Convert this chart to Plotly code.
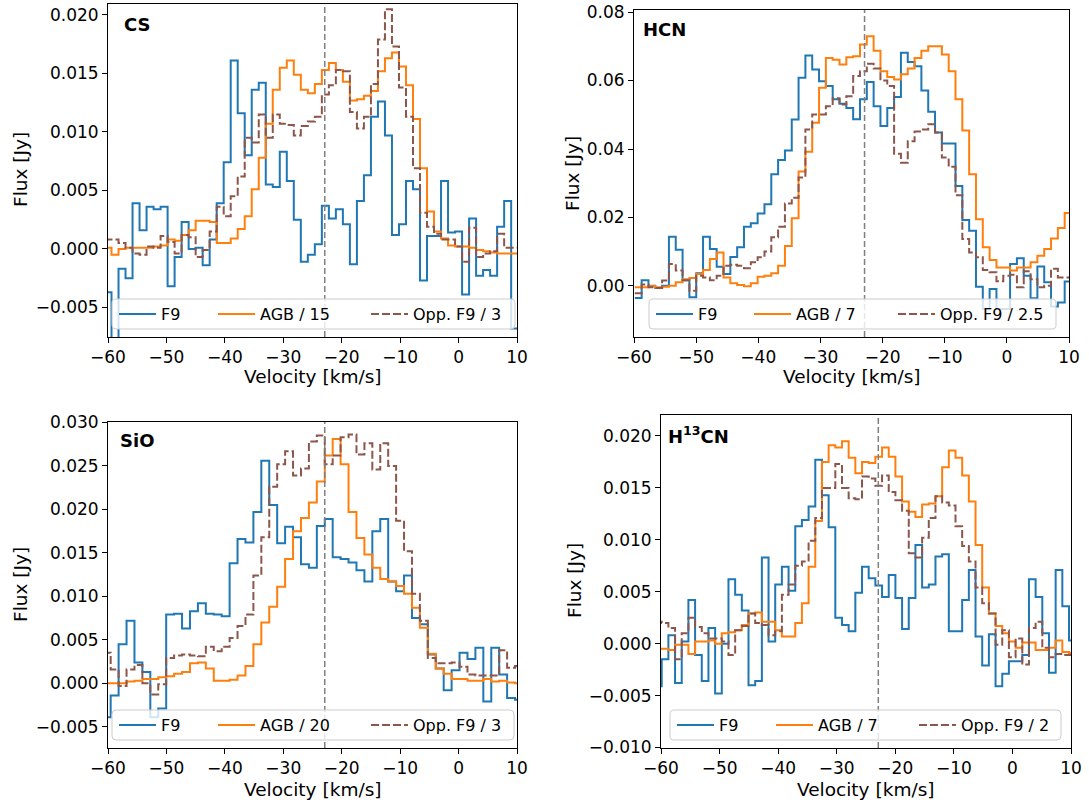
import numpy as np
import plotly.graph_objects as go

# velocity channel grids (km/s): centre of first channel and channel width per line
CS_V0, CS_DV = -60.0, 1.2
HCN_V0, HCN_DV = -59.32, 1.098
SIO_V0, SIO_DV = -60.22, 1.357
H13CN_V0, H13CN_DV = -60.45, 1.14

# CS (Jy)
cs_f9 = [-0.0037, -0.0090, -0.0017, -0.0025, 0.0039, 0.0016, 0.0036, 0.0034, 0.0036, -0.0032,
         -0.0007, 0.0023, 0.0000, 0.0001, -0.0014, 0.0008, 0.0039, 0.0074, 0.0161, 0.0116,
         0.0080, 0.0136, 0.0142, 0.0055, 0.0053, 0.0083, 0.0058, 0.0025, -0.0011, -0.0005,
         0.0004, 0.0037, 0.0026, 0.0034, 0.0021, -0.0013, 0.0041, 0.0063, 0.0113, 0.0126,
         0.0097, 0.0012, 0.0021, 0.0058, 0.0051, -0.0027, 0.0011, 0.0011, 0.0058, 0.0014,
         0.0015, -0.0039, 0.0026, -0.0023, -0.0018, -0.0023, 0.0019, 0.0041, -0.0068]
cs_agb = [0.0001, -0.0005, 0.0000, 0.0001, 0.0001, 0.0001, 0.0001, 0.0002, 0.0003, 0.0008,
          0.0007, 0.0012, 0.0016, 0.0024, 0.0024, 0.0023, 0.0005, 0.0005, 0.0009, 0.0017,
          0.0028, 0.0051, 0.0078, 0.0107, 0.0136, 0.0155, 0.0161, 0.0149, 0.0136, 0.0133,
          0.0141, 0.0153, 0.0159, 0.0153, 0.0143, 0.0127, 0.0128, 0.0131, 0.0135, 0.0152,
          0.0163, 0.0168, 0.0156, 0.0140, 0.0111, 0.0069, 0.0032, 0.0015, 0.0009, 0.0003,
          0.0002, 0.0002, 0.0001, -0.0001, -0.0002, -0.0003, -0.0004, -0.0004, -0.0004]
cs_opp = [0.0008, 0.0008, 0.0005, 0.0001, -0.0004, -0.0005, 0.0002, 0.0001, 0.0011, 0.0006,
          -0.0004, 0.0012, 0.0010, -0.0007, -0.0001, 0.0015, 0.0036, 0.0028, 0.0045, 0.0062,
          0.0095, 0.0091, 0.0115, 0.0095, 0.0115, 0.0107, 0.0106, 0.0097, 0.0105, 0.0109,
          0.0113, 0.0132, 0.0140, 0.0153, 0.0152, 0.0117, 0.0103, 0.0113, 0.0141, 0.0179,
          0.0205, 0.0173, 0.0138, 0.0113, 0.0069, 0.0031, 0.0019, 0.0013, 0.0008, 0.0008,
          0.0002, -0.0011, 0.0018, -0.0007, -0.0004, -0.0002, 0.0013, 0.0001, 0.0001]

# HCN (Jy)
hcn_f9 = [-0.0035, 0.0017, 0.0001, -0.0006, 0.0001, 0.0144, 0.0106, 0.0017, -0.0033, 0.0037,
          0.0144, 0.0108, 0.0056, 0.0035, 0.0085, 0.0113, 0.0173, 0.0183, 0.0212, 0.0239,
          0.0326, 0.0368, 0.0396, 0.0486, 0.0608, 0.0673, 0.0632, 0.0598, 0.0584, 0.0545,
          0.0532, 0.0520, 0.0487, 0.0545, 0.0596, 0.0525, 0.0467, 0.0520, 0.0552, 0.0681,
          0.0654, 0.0642, 0.0571, 0.0509, 0.0448, 0.0416, 0.0416, 0.0292, 0.0193, 0.0161,
          -0.0002, -0.0067, -0.0009, -0.0067, -0.0067, 0.0064, 0.0081, 0.0030, -0.0036, 0.0057,
          0.0011, -0.0060, -0.0048, 0.0013]
hcn_agb = [-0.0004, -0.0004, 0.0000, -0.0004, -0.0002, 0.0001, 0.0011, 0.0020, 0.0023, 0.0035,
           0.0047, 0.0079, 0.0098, 0.0025, 0.0008, 0.0003, -0.0001, 0.0008, 0.0027, 0.0030,
           0.0037, 0.0059, 0.0117, 0.0198, 0.0334, 0.0392, 0.0477, 0.0579, 0.0666, 0.0661,
           0.0647, 0.0668, 0.0671, 0.0705, 0.0729, 0.0687, 0.0627, 0.0610, 0.0603, 0.0618,
           0.0635, 0.0666, 0.0687, 0.0700, 0.0700, 0.0676, 0.0627, 0.0545, 0.0454, 0.0326,
           0.0195, 0.0113, 0.0076, 0.0054, 0.0054, 0.0045, 0.0054, 0.0054, 0.0069, 0.0088,
           0.0108, 0.0139, 0.0169, 0.0213]
hcn_opp = [-0.0021, 0.0004, -0.0004, -0.0006, 0.0016, 0.0064, 0.0045, 0.0017, -0.0014, 0.0030,
           0.0025, 0.0017, 0.0030, 0.0059, 0.0062, 0.0059, 0.0052, 0.0069, 0.0084, 0.0101,
           0.0142, 0.0173, 0.0241, 0.0258, 0.0317, 0.0457, 0.0501, 0.0501, 0.0525, 0.0548,
           0.0530, 0.0554, 0.0613, 0.0627, 0.0649, 0.0635, 0.0600, 0.0584, 0.0386, 0.0360,
           0.0423, 0.0451, 0.0457, 0.0472, 0.0448, 0.0375, 0.0348, 0.0265, 0.0137, 0.0098,
           0.0084, 0.0047, 0.0040, 0.0014, 0.0030, 0.0033, -0.0004, 0.0043, 0.0020, -0.0004,
           0.0001, 0.0050, 0.0025, 0.0025]

# SiO (Jy)
sio_f9 = [-0.0039, -0.0014, 0.0045, 0.0072, 0.0024, 0.0013, -0.0039, -0.0029, 0.0079, 0.0080,
          0.0063, 0.0083, 0.0092, 0.0080, 0.0079, 0.0077, 0.0138, 0.0166, 0.0162, 0.0197,
          0.0256, 0.0205, 0.0161, 0.0180, 0.0168, 0.0137, 0.0133, 0.0181, 0.0189, 0.0145,
          0.0143, 0.0139, 0.0130, 0.0117, 0.0175, 0.0189, 0.0117, 0.0106, 0.0124, 0.0075,
          0.0068, 0.0033, 0.0017, -0.0008, 0.0015, 0.0035, 0.0028, 0.0041, -0.0021, 0.0041,
          0.0010, -0.0017, -0.0019]
sio_agb = [0.0000, 0.0000, 0.0000, 0.0002, 0.0003, 0.0005, 0.0005, 0.0007, 0.0008, 0.0011,
           0.0013, 0.0023, 0.0024, 0.0017, 0.0003, 0.0003, 0.0004, 0.0009, 0.0020, 0.0045,
           0.0070, 0.0088, 0.0111, 0.0143, 0.0175, 0.0190, 0.0208, 0.0232, 0.0262, 0.0281,
           0.0252, 0.0197, 0.0167, 0.0148, 0.0133, 0.0120, 0.0117, 0.0112, 0.0103, 0.0087,
           0.0064, 0.0034, 0.0017, 0.0011, 0.0005, 0.0005, 0.0003, 0.0003, 0.0005, 0.0002,
           0.0003, 0.0001, 0.0000]
sio_opp = [0.0035, 0.0016, -0.0003, 0.0016, 0.0021, 0.0000, -0.0013, -0.0001, 0.0029, 0.0032,
           0.0033, 0.0032, 0.0031, 0.0042, 0.0037, 0.0042, 0.0052, 0.0066, 0.0079, 0.0124,
           0.0168, 0.0226, 0.0252, 0.0267, 0.0239, 0.0247, 0.0278, 0.0285, 0.0252, 0.0262,
           0.0283, 0.0286, 0.0263, 0.0276, 0.0246, 0.0276, 0.0250, 0.0187, 0.0152, 0.0103,
           0.0072, 0.0029, 0.0023, 0.0023, 0.0024, 0.0019, 0.0010, 0.0009, 0.0009, 0.0009,
           0.0038, 0.0018, 0.0020]

# H13CN (Jy)
h13cn_f9 = [-0.0041, -0.0015, 0.0008, -0.0038, 0.0002, 0.0042, -0.0011, -0.0036, 0.0015, -0.0048,
            0.0000, 0.0062, 0.0047, 0.0032, -0.0040, -0.0036, 0.0083, 0.0002, 0.0057, 0.0074,
            0.0051, 0.0113, 0.0119, 0.0132, 0.0177, 0.0143, 0.0112, 0.0025, 0.0018, 0.0012,
            0.0049, 0.0074, 0.0063, 0.0056, 0.0045, 0.0066, 0.0044, 0.0014, 0.0044, 0.0095,
            0.0054, 0.0057, 0.0084, 0.0086, 0.0012, 0.0012, 0.0042, 0.0071, 0.0007, -0.0021,
            0.0009, -0.0041, -0.0029, -0.0017, -0.0017, -0.0011, 0.0062, 0.0045, 0.0010, -0.0028,
            0.0071, 0.0036, 0.0003]
h13cn_agb = [-0.0005, -0.0005, -0.0006, -0.0001, -0.0001, -0.0010, 0.0002, 0.0002, 0.0003, 0.0000,
             0.0010, 0.0011, 0.0013, 0.0018, 0.0029, 0.0030, 0.0021, 0.0021, 0.0013, 0.0007,
             0.0007, 0.0020, 0.0039, 0.0074, 0.0118, 0.0175, 0.0191, 0.0189, 0.0195, 0.0179,
             0.0164, 0.0175, 0.0174, 0.0180, 0.0189, 0.0180, 0.0161, 0.0137, 0.0127, 0.0122,
             0.0134, 0.0135, 0.0142, 0.0170, 0.0186, 0.0179, 0.0162, 0.0137, 0.0095, 0.0054,
             0.0029, 0.0017, 0.0010, 0.0002, -0.0004, 0.0001, 0.0001, -0.0006, -0.0006, -0.0004,
             0.0003, -0.0008, -0.0009]
h13cn_opp = [0.0021, 0.0020, 0.0015, -0.0015, 0.0010, 0.0025, 0.0016, 0.0010, 0.0005, 0.0005,
             0.0002, -0.0011, 0.0013, 0.0017, 0.0029, 0.0020, 0.0018, 0.0008, 0.0012, 0.0047,
             0.0057, 0.0075, 0.0079, 0.0099, 0.0121, 0.0150, 0.0150, 0.0173, 0.0150, 0.0140,
             0.0139, 0.0161, 0.0159, 0.0152, 0.0162, 0.0146, 0.0138, 0.0128, 0.0087, 0.0083,
             0.0102, 0.0121, 0.0142, 0.0136, 0.0133, 0.0113, 0.0094, 0.0079, 0.0054, 0.0039,
             0.0029, -0.0001, 0.0013, -0.0013, 0.0005, -0.0020, 0.0015, 0.0021, -0.0004, -0.0013,
             -0.0010, -0.0011, -0.0011]

V_SYS = -22.9

W, H = 1089, 802
BLUE, ORANGE, BROWN = '#1f77b4', '#ff7f0e', '#8c564b'
FONT = 'DejaVu Sans'

# panel boxes in pixels: (left, right, top, bottom); legend box and entry positions too
panels = [
    dict(label='<b>CS</b>', v0=CS_V0, dv=CS_DV, f9=cs_f9, agb=cs_agb, opp=cs_opp,
         agb_name='AGB / 15', opp_name='Opp. F9 / 3',
         box=(108, 517, 4, 337), yr=[-0.00753, 0.02094], dtick=0.005, fmt='.3f',
         lab_xy=(122, 24), flux_xy=(20, 170), vel_xy=(312.5, 376),
         leg_box=(112, 515, 299, 329), leg_x=(113, 212, 365)),
    dict(label='<b>HCN</b>', v0=HCN_V0, dv=HCN_DV, f9=hcn_f9, agb=hcn_agb, opp=hcn_opp,
         agb_name='AGB / 7', opp_name='Opp. F9 / 2.5',
         box=(634, 1069, 10, 337), yr=[-0.0149, 0.0806], dtick=0.02, fmt='.2f',
         lab_xy=(641, 29.5), flux_xy=(572, 174), vel_xy=(851.5, 376),
         leg_box=(649, 1056, 299, 329), leg_x=(650, 748, 892)),
    dict(label='<b>SiO</b>', v0=SIO_V0, dv=SIO_DV, f9=sio_f9, agb=sio_agb, opp=sio_opp,
         agb_name='AGB / 20', opp_name='Opp. F9 / 3',
         box=(108, 517, 422, 748), yr=[-0.00744, 0.03005], dtick=0.005, fmt='.3f',
         lab_xy=(118, 440.5), flux_xy=(20, 585), vel_xy=(312.5, 789),
         leg_box=(112, 514, 710, 740), leg_x=(113, 212, 365)),
    dict(label='<b>H<sup>13</sup>CN</b>', v0=H13CN_V0, dv=H13CN_DV,
         f9=h13cn_f9, agb=h13cn_agb, opp=h13cn_opp,
         agb_name='AGB / 7', opp_name='Opp. F9 / 2',
         box=(661, 1071, 415, 748), yr=[-0.01005, 0.02202], dtick=0.005, fmt='.3f',
         lab_xy=(666, 435), flux_xy=(574, 581), vel_xy=(866, 789),
         leg_box=(670, 1061, 710, 740), leg_x=(671, 770, 913)),
]

axis_style = dict(showline=True, linecolor='black', linewidth=1, mirror=True,
                  ticks='outside', ticklen=5, tickwidth=1, tickcolor='black',
                  showgrid=False, zeroline=False,
                  tickfont=dict(family=FONT, size=17, color='black'))


def stairs(v0, dv, vals):
    """Channel edges and values for a full-width step plot (like plt.stairs)."""
    n = len(vals)
    edges = np.round(v0 - dv / 2 + dv * np.arange(n + 1), 4)
    return edges, list(vals) + [vals[-1]]


def rounded_box(x0, x1, y0, y1, r=4):
    """SVG path (paper coords) for a rounded rectangle given in pixels."""
    def p(x, y):
        return f'{x / W:.5f},{1 - y / H:.5f}'
    return (f'M{p(x0 + r, y0)} L{p(x1 - r, y0)} Q{p(x1, y0)} {p(x1, y0 + r)} '
            f'L{p(x1, y1 - r)} Q{p(x1, y1)} {p(x1 - r, y1)} L{p(x0 + r, y1)} '
            f'Q{p(x0, y1)} {p(x0, y1 - r)} L{p(x0, y0 + r)} Q{p(x0, y0)} {p(x0 + r, y0)} Z')


fig = go.Figure()
layout = {}
annotations = []
shapes = []
leg_count = 0

for i, p in enumerate(panels):
    n = '' if i == 0 else str(i + 1)
    xa, ya = 'x' + n, 'y' + n
    left, right, top, bottom = p['box']
    bx0, bx1, by0, by1 = p['leg_box']
    cy = (by0 + by1) / 2

    series = [('F9', p['f9'], dict(color=BLUE, width=2, shape='hv')),
              (p['agb_name'], p['agb'], dict(color=ORANGE, width=2, shape='hv')),
              (p['opp_name'], p['opp'], dict(color=BROWN, width=2, shape='hv', dash='8px,3px'))]

    for (name, vals, line), lx in zip(series, p['leg_x']):
        leg_count += 1
        leg = 'legend' if leg_count == 1 else f'legend{leg_count}'
        xs, ys = stairs(p['v0'], p['dv'], vals)
        fig.add_trace(go.Scatter(x=xs, y=ys, name=name, mode='lines', line=line,
                                 xaxis=xa, yaxis=ya, legend=leg))
        layout[leg] = dict(orientation='h', x=(lx + 1) / W, y=1 - cy / H,
                           xanchor='left', yanchor='middle',
                           bgcolor='rgba(0,0,0,0)', borderwidth=0,
                           font=dict(family=FONT, size=16, color='black'),
                           itemwidth=37)

    layout['xaxis' + n] = dict(domain=[left / W, right / W], range=[-60, 10],
                               tick0=0, dtick=10, anchor=ya, **axis_style)
    layout['yaxis' + n] = dict(domain=[1 - bottom / H, 1 - top / H], range=p['yr'],
                               tick0=0, dtick=p['dtick'], tickformat=p['fmt'],
                               anchor=xa, **axis_style)

    shapes.append(dict(type='line', xref=xa, yref=ya + ' domain', x0=V_SYS, x1=V_SYS,
                       y0=0, y1=1, line=dict(color='#808080', width=1.5, dash='6px,3px'),
                       layer='above'))
    shapes.append(dict(type='path', xref='paper', yref='paper',
                       path=rounded_box(bx0, bx1, by0, by1),
                       fillcolor='rgba(255,255,255,0.8)',
                       line=dict(color='#cccccc', width=1), layer='above'))

    lx, ly = p['lab_xy']
    annotations.append(dict(text=p['label'], xref='paper', yref='paper', x=lx / W, y=1 - ly / H,
                            xanchor='left', yanchor='middle', showarrow=False,
                            font=dict(family=FONT, size=18, color='black')))
    fx, fy = p['flux_xy']
    annotations.append(dict(text='Flux [Jy]', xref='paper', yref='paper', x=fx / W, y=1 - fy / H,
                            xanchor='center', yanchor='middle', textangle=-90, showarrow=False,
                            font=dict(family=FONT, size=18.5, color='black')))
    vx, vy = p['vel_xy']
    annotations.append(dict(text='Velocity [km/s]', xref='paper', yref='paper', x=vx / W,
                            y=1 - vy / H, xanchor='center', yanchor='middle', showarrow=False,
                            font=dict(family=FONT, size=18.5, color='black')))

fig.update_layout(**layout)
fig.update_layout(width=W, height=H, margin=dict(l=0, r=0, t=0, b=0, autoexpand=False),
                  paper_bgcolor='white', plot_bgcolor='white',
                  font=dict(family=FONT, color='black'),
                  annotations=annotations, shapes=shapes, showlegend=True)

fig.write_html("out.html", config={'displayModeBar': False},
               post_script="document.body.style.margin='0';")
